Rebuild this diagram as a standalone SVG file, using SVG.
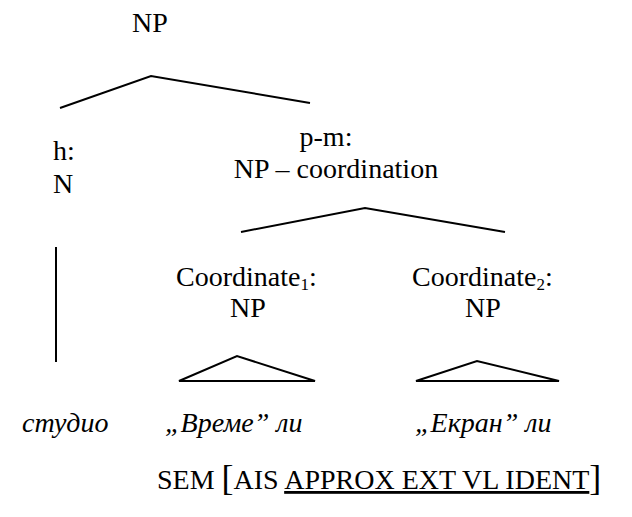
<svg xmlns="http://www.w3.org/2000/svg" width="632" height="517" viewBox="0 0 632 517">
  <rect width="632" height="517" fill="#fff"/>

  <!-- tree edges and the two roof triangles -->
  <g id="connectors" fill="none" stroke="#000" stroke-width="2">
    <polyline points="60,108 151,76 310,103"/>
    <polyline points="241,232 365,208 505,232"/>
    <line x1="56" y1="247" x2="56" y2="362"/>
    <polygon points="179,381 237,356 315,381"/>
    <polygon points="416,381 477,361 559,381"/>
  </g>

  <g id="np-root">
    <text x="150" y="32" font-family="Liberation Serif" font-size="28" text-anchor="middle">NP</text>
  </g>

  <g id="head">
    <text x="53" y="160" font-family="Liberation Serif" font-size="28">h:</text>
    <text x="53" y="193" font-family="Liberation Serif" font-size="28">N</text>
  </g>

  <g id="postmod">
    <text x="326" y="146" font-family="Liberation Serif" font-size="28" text-anchor="middle">p-m:</text>
    <text x="336" y="178" font-family="Liberation Serif" font-size="28" text-anchor="middle">NP – coordination</text>
  </g>

  <g id="coordinate-1">
    <text x="176" y="286" font-family="Liberation Serif" font-size="28">Coordinate<tspan font-size="17" dy="4">1</tspan><tspan dy="-4">:</tspan></text>
    <text x="248" y="317" font-family="Liberation Serif" font-size="28" text-anchor="middle">NP</text>
  </g>

  <g id="coordinate-2">
    <text x="412" y="286" font-family="Liberation Serif" font-size="28">Coordinate<tspan font-size="17" dy="4">2</tspan><tspan dy="-4">:</tspan></text>
    <text x="483" y="317" font-family="Liberation Serif" font-size="28" text-anchor="middle">NP</text>
  </g>

  <g id="leaves">
    <text x="22" y="432" font-family="Liberation Serif" font-size="28" font-style="italic">студио</text>
    <text x="165" y="432" font-family="Liberation Serif" font-size="28" font-style="italic">„Време” ли</text>
    <text x="415" y="432" font-family="Liberation Serif" font-size="28" font-style="italic">„Екран” ли</text>
  </g>

  <g id="semantics">
    <text x="157" y="489" font-family="Liberation Serif" font-size="28">SEM <tspan font-size="36" dy="1">[</tspan><tspan dy="-1">AIS </tspan><tspan text-decoration="underline">APPROX EXT VL IDENT</tspan><tspan font-size="36" dy="1">]</tspan></text>
  </g>
</svg>
